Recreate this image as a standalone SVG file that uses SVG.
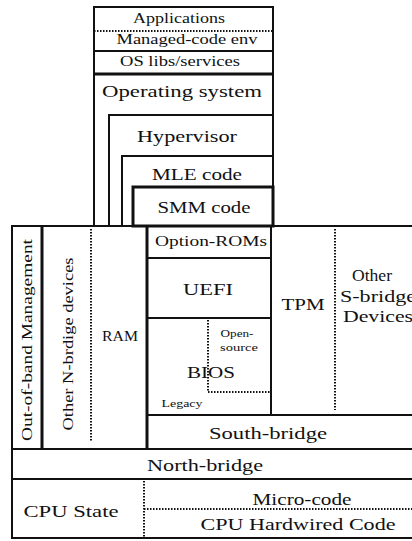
<svg xmlns="http://www.w3.org/2000/svg" width="412" height="541" viewBox="0 0 412 541" font-family="'Liberation Serif', 'DejaVu Serif', 'Times New Roman', Times, serif">
<style>
text{fill:#111;text-anchor:middle}
.b{fill:none;stroke:#111;stroke-width:2}
.t{fill:none;stroke:#111;stroke-width:3}
.d{fill:none;stroke:#111;stroke-width:2;stroke-dasharray:1.5 1.5}
.s13{font-size:14px}.s14{font-size:16px}.s15{font-size:17px}.s9{font-size:10px}
</style>
<rect width="412" height="541" fill="#fff"/>
<g id="top-stack">
 <rect class="b" x="94" y="7" width="179" height="219"/>
 <g id="applications"><text class="s13" x="179" y="23" textLength="92" lengthAdjust="spacingAndGlyphs">Applications</text></g>
 <line class="d" x1="94" y1="31" x2="273" y2="31"/>
 <g id="managed-code"><text class="s13" x="187" y="44" textLength="141" lengthAdjust="spacingAndGlyphs">Managed-code env</text></g>
 <line class="b" x1="94" y1="51" x2="273" y2="51"/>
 <g id="os-libs"><text class="s13" x="180" y="66" textLength="120" lengthAdjust="spacingAndGlyphs">OS libs/services</text></g>
 <line class="t" x1="94" y1="74" x2="274" y2="74"/>
 <g id="operating-system"><text class="s15" x="182" y="97" textLength="160" lengthAdjust="spacingAndGlyphs">Operating system</text></g>
 <g id="hypervisor"><polyline class="b" points="109,226 109,115 273,115"/><text class="s15" x="187" y="142" textLength="100" lengthAdjust="spacingAndGlyphs">Hypervisor</text></g>
 <g id="mle"><polyline class="b" points="122,226 122,156 273,156"/><text class="s15" x="197" y="180" textLength="90" lengthAdjust="spacingAndGlyphs">MLE code</text></g>
 <g id="smm"><rect class="t" x="133" y="187" width="140" height="39"/><text class="s15" x="204" y="213" textLength="93" lengthAdjust="spacingAndGlyphs">SMM code</text></g>
</g>
<g id="platform">
 <rect class="b" x="12" y="226" width="410" height="312"/>
 <g id="oob"><line class="t" x1="42" y1="226" x2="42" y2="450"/><text class="s13" transform="translate(32,340) rotate(-90)" textLength="202" lengthAdjust="spacingAndGlyphs">Out-of-band Management</text></g>
 <g id="nbridge-devices"><line class="d" x1="91" y1="229" x2="91" y2="442"/><text class="s13" transform="translate(73,344) rotate(-90)" textLength="173" lengthAdjust="spacingAndGlyphs">Other N-brdige devices</text></g>
 <g id="ram"><line class="t" x1="147" y1="226" x2="147" y2="450"/><text class="s13" x="120" y="341" textLength="36" lengthAdjust="spacingAndGlyphs">RAM</text></g>
 <g id="option-roms"><line class="b" x1="147" y1="258" x2="271" y2="258"/><text class="s13" x="211" y="246" textLength="112" lengthAdjust="spacingAndGlyphs">Option-ROMs</text></g>
 <g id="uefi"><line class="b" x1="147" y1="318" x2="271" y2="318"/><text class="s15" x="208" y="295" textLength="50" lengthAdjust="spacingAndGlyphs">UEFI</text></g>
 <g id="bios">
  <line class="d" x1="208" y1="320" x2="208" y2="392"/><line class="d" x1="208" y1="392" x2="271" y2="392"/>
  <text class="s9" x="237" y="337" textLength="33" lengthAdjust="spacingAndGlyphs">Open-</text><text class="s9" x="239" y="351" textLength="38" lengthAdjust="spacingAndGlyphs">source</text>
  <text class="s15" x="211" y="378" textLength="48" lengthAdjust="spacingAndGlyphs">BIOS</text>
  <text class="s9" x="182" y="407" textLength="41" lengthAdjust="spacingAndGlyphs">Legacy</text>
 </g>
 <g id="tpm"><line class="b" x1="271" y1="226" x2="271" y2="415"/><text class="s14" x="303" y="310" textLength="43" lengthAdjust="spacingAndGlyphs">TPM</text></g>
 <g id="sbridge-devices"><line class="d" x1="335" y1="229" x2="335" y2="410"/>
  <text class="s14" x="372" y="281" textLength="40" lengthAdjust="spacingAndGlyphs">Other</text><text class="s14" x="378" y="302" textLength="76" lengthAdjust="spacingAndGlyphs">S-bridge</text><text class="s14" x="378" y="322" textLength="70" lengthAdjust="spacingAndGlyphs">Devices</text></g>
 <g id="south-bridge"><line class="b" x1="147" y1="415" x2="412" y2="415"/><text class="s14" x="268" y="439" textLength="118" lengthAdjust="spacingAndGlyphs">South-bridge</text></g>
 <g id="north-bridge"><line class="b" x1="12" y1="449" x2="412" y2="449"/><text class="s14" x="205" y="471" textLength="116" lengthAdjust="spacingAndGlyphs">North-bridge</text></g>
 <g id="cpu"><line class="b" x1="12" y1="479" x2="412" y2="479"/>
  <line class="d" x1="144" y1="481" x2="144" y2="537"/>
  <text class="s15" x="71" y="517" textLength="95" lengthAdjust="spacingAndGlyphs">CPU State</text>
  <line class="d" x1="144" y1="509" x2="412" y2="509"/>
  <text class="s14" x="302" y="505" textLength="99" lengthAdjust="spacingAndGlyphs">Micro-code</text>
  <text class="s14" x="298" y="530" textLength="195" lengthAdjust="spacingAndGlyphs">CPU Hardwired Code</text>
 </g>
</g>
</svg>
